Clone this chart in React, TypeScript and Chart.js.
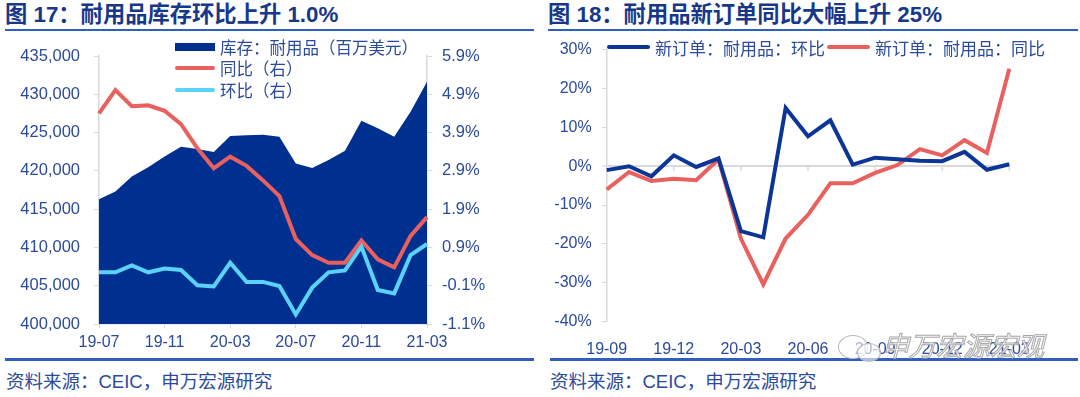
import React, { useEffect, useRef } from "react";
import { Chart, registerables } from "chart.js";
Chart.register(...registerables);

// ---------- Data: Figure 17 ----------
const months17 = [
  "19-07", "19-08", "19-09", "19-10", "19-11", "19-12", "20-01", "20-02", "20-03", "20-04",
  "20-05", "20-06", "20-07", "20-08", "20-09", "20-10", "20-11", "20-12", "21-01", "21-02", "21-03",
];
const inventory = [
  416300, 417300, 419250, 420470, 421860, 423160, 422860, 422470, 424560, 424640,
  424730, 424470, 420950, 420380, 421420, 422640, 426550, 425560, 424470, 427730, 431650,
];
const invYoY = [
  4.4, 5.01, 4.59, 4.61, 4.47, 4.12, 3.49, 2.97, 3.27, 3.03,
  2.65, 2.24, 1.12, 0.7, 0.5, 0.5, 1.08, 0.59, 0.38, 1.2, 1.69,
];
const invMoM = [
  0.25, 0.25, 0.43, 0.25, 0.35, 0.31, -0.09, -0.12, 0.5, 0.0,
  0.0, -0.11, -0.85, -0.15, 0.25, 0.3, 0.92, -0.21, -0.3, 0.7, 0.99,
];
const leftTicks17 = [400000, 405000, 410000, 415000, 420000, 425000, 430000, 435000];
const rightTicks17 = [-1.1, -0.1, 0.9, 1.9, 2.9, 3.9, 4.9, 5.9];
const labels17 = ["库存：耐用品（百万美元）", "同比（右）", "环比（右）"];

// ---------- Data: Figure 18 ----------
const months18 = [
  "19-09", "19-10", "19-11", "19-12", "20-01", "20-02", "20-03", "20-04", "20-05", "20-06",
  "20-07", "20-08", "20-09", "20-10", "20-11", "20-12", "21-01", "21-02", "21-03",
];
const ordersMoM = [
  -1.0, 0.0, -2.6, 2.8, -0.2, 2.0, -16.7, -18.3, 15.0, 7.7,
  11.8, 0.4, 2.2, 1.8, 1.4, 1.3, 3.7, -0.9, 0.5,
];
const ordersYoY = [
  -6.0, -1.5, -3.8, -3.2, -3.6, 1.8, -18.6, -30.4, -18.6, -12.5,
  -4.4, -4.4, -1.7, 0.3, 4.4, 2.8, 6.7, 3.4, 25.1,
];
const yTicks18 = [-40, -30, -20, -10, 0, 10, 20, 30];
const labels18 = ["新订单：耐用品：环比", "新订单：耐用品：同比"];

// ---------- Styles ----------
const NAVY = "#00308f";
const RED = "#e8615f";
const CYAN = "#5ad2fa";
const BLUE_LINE = "#0b3596";
const TEXT = "#2c4a9b";
const TITLE = "#17378a";
const RULE = "#3060bf";
const AXIS = "#d9d9d9";
const NUMFONT = "'Liberation Sans', Arial, 'Noto Sans CJK SC', sans-serif";
const CJKFONT = "'Liberation Sans', 'Noto Sans CJK SC', sans-serif";

function Fig17() {
  const ref = useRef<HTMLCanvasElement>(null);
  useEffect(() => {
    const chart = new Chart(ref.current!, {
      type: "line",
      data: {
        labels: months17,
        datasets: [
          {
            label: labels17[2],
            data: invMoM,
            yAxisID: "y1",
            borderColor: CYAN,
            borderWidth: 4,
            pointRadius: 0,
            tension: 0,
            fill: false,
            order: 1,
          },
          {
            label: labels17[1],
            data: invYoY,
            yAxisID: "y1",
            borderColor: RED,
            borderWidth: 4,
            pointRadius: 0,
            tension: 0,
            fill: false,
            order: 2,
          },
          {
            label: labels17[0],
            data: inventory,
            yAxisID: "y",
            borderWidth: 0,
            borderColor: NAVY,
            backgroundColor: NAVY,
            pointRadius: 0,
            tension: 0,
            fill: "start",
            order: 3,
          },
        ],
      },
      options: {
        responsive: false,
        animation: false,
        layout: { padding: { top: 26, left: 0, right: 0, bottom: 0 } },
        plugins: { legend: { display: false }, tooltip: { enabled: false } },
        scales: {
          x: {
            type: "category",
            offset: false,
            border: { display: true, color: AXIS, width: 1.5 },
            grid: { drawOnChartArea: false, drawTicks: true, tickLength: 4, color: AXIS },
            ticks: {
              autoSkip: false,
              maxRotation: 0,
              padding: 5,
              color: TEXT,
              font: { family: NUMFONT, size: 16 },
            },
            afterBuildTicks: (s: any) => {
              s.ticks = s.ticks.filter((_: any, i: number) => i % 4 === 0);
            },
            afterFit: (s: any) => {
              s.height = 36;
            },
          },
          y: {
            position: "left",
            min: leftTicks17[0],
            max: leftTicks17[leftTicks17.length - 1],
            border: { display: true, color: AXIS, width: 1.5 },
            grid: { drawOnChartArea: false, drawTicks: true, tickLength: 5, color: AXIS },
            afterBuildTicks: (s: any) => {
              s.ticks = leftTicks17.map((v) => ({ value: v }));
            },
            ticks: {
              padding: 14,
              color: TEXT,
              font: { family: NUMFONT, size: 16.5 },
              callback: (v: any) => Number(v).toLocaleString("en-US"),
            },
            afterFit: (s: any) => {
              s.width = 99;
            },
          },
          y1: {
            position: "right",
            min: rightTicks17[0],
            max: rightTicks17[rightTicks17.length - 1],
            border: { display: true, color: AXIS, width: 1.5 },
            grid: { drawOnChartArea: false, drawTicks: true, tickLength: 5, color: AXIS },
            afterBuildTicks: (s: any) => {
              s.ticks = rightTicks17.map((v) => ({ value: v }));
            },
            ticks: {
              padding: 10,
              color: TEXT,
              font: { family: NUMFONT, size: 16.5 },
              callback: (v: any) => Number(v).toFixed(1) + "%",
            },
            afterFit: (s: any) => {
              s.width = 113;
            },
          },
        },
      },
    });
    return () => chart.destroy();
  }, []);
  return (
    <canvas
      ref={ref}
      width={540}
      height={330}
      style={{ position: "absolute", left: 0, top: 30, width: 540, height: 330, display: "block" }}
    />
  );
}

const zeroTicks = {
  id: "zeroTicks",
  beforeDatasetsDraw(chart: any) {
    const xs = chart.scales.x;
    const ys = chart.scales.y;
    const y0 = ys.getPixelForValue(0);
    const ctx = chart.ctx;
    ctx.save();
    ctx.strokeStyle = AXIS;
    ctx.lineWidth = 1.5;
    xs.ticks.forEach((t: any) => {
      const px = xs.getPixelForValue(t.value);
      ctx.beginPath();
      ctx.moveTo(px, y0);
      ctx.lineTo(px, y0 + 5);
      ctx.stroke();
    });
    ctx.restore();
  },
};

function Fig18() {
  const ref = useRef<HTMLCanvasElement>(null);
  useEffect(() => {
    const chart = new Chart(ref.current!, {
      type: "line",
      data: {
        labels: months18,
        datasets: [
          {
            label: labels18[0],
            data: ordersMoM,
            borderColor: BLUE_LINE,
            borderWidth: 4,
            pointRadius: 0,
            tension: 0,
            fill: false,
            order: 1,
          },
          {
            label: labels18[1],
            data: ordersYoY,
            borderColor: RED,
            borderWidth: 4,
            pointRadius: 0,
            tension: 0,
            fill: false,
            order: 2,
          },
        ],
      },
      plugins: [zeroTicks],
      options: {
        responsive: false,
        animation: false,
        layout: { padding: { top: 19.3, left: 0, right: 70.7, bottom: 0 } },
        plugins: { legend: { display: false }, tooltip: { enabled: false } },
        scales: {
          x: {
            type: "category",
            offset: false,
            border: { display: false },
            grid: { display: false },
            ticks: {
              autoSkip: false,
              maxRotation: 0,
              padding: 10,
              color: TEXT,
              font: { family: NUMFONT, size: 16 },
            },
            afterBuildTicks: (s: any) => {
              s.ticks = s.ticks.filter((_: any, i: number) => i % 3 === 0);
            },
            afterFit: (s: any) => {
              s.height = 38.3;
            },
          },
          y: {
            min: yTicks18[0],
            max: yTicks18[yTicks18.length - 1],
            border: { display: true, color: AXIS, width: 1.5 },
            grid: {
              drawOnChartArea: true,
              drawTicks: true,
              tickLength: 5,
              tickColor: AXIS,
              tickWidth: 1,
              color: (c: any) => (c.tick && c.tick.value === 0 ? AXIS : "rgba(0,0,0,0)"),
              lineWidth: (c: any) => (c.tick && c.tick.value === 0 ? 2 : 1),
            },
            afterBuildTicks: (s: any) => {
              s.ticks = yTicks18.map((v) => ({ value: v }));
            },
            ticks: {
              padding: 10,
              color: TEXT,
              font: { family: NUMFONT, size: 16 },
              callback: (v: any) => `${v}%`,
            },
            afterFit: (s: any) => {
              s.width = 66.7;
            },
          },
        },
      },
    });
    return () => chart.destroy();
  }, []);
  return (
    <canvas
      ref={ref}
      width={540}
      height={330}
      style={{ position: "absolute", left: 540, top: 30, width: 540, height: 330, display: "block" }}
    />
  );
}

function LegendItem(props: {
  left: number;
  cy: number;
  swatch: "box" | "line";
  color: string;
  text: string;
  size: number;
  width?: number;
}) {
  const w = props.width ?? 40;
  return (
    <div
      style={{
        position: "absolute",
        left: props.left,
        top: props.cy - 12,
        height: 24,
        display: "flex",
        alignItems: "center",
        whiteSpace: "nowrap",
        fontFamily: CJKFONT,
        fontSize: props.size,
        color: TEXT,
      }}
    >
      <div
        style={{
          width: w,
          height: props.swatch === "box" ? 8 : 4,
          background: props.color,
          borderRadius: props.swatch === "line" ? 2 : 0,
          marginRight: 5,
        }}
      />
      <span>{props.text}</span>
    </div>
  );
}

export default function App() {
  const titleStyle: React.CSSProperties = {
    position: "absolute",
    top: 0,
    lineHeight: "29px",
    fontFamily: CJKFONT,
    fontWeight: 700,
    fontSize: 22.3,
    color: TITLE,
    whiteSpace: "nowrap",
  };
  const sourceStyle: React.CSSProperties = {
    position: "absolute",
    top: 369,
    lineHeight: "25px",
    fontFamily: CJKFONT,
    fontSize: 18.5,
    color: TEXT,
    whiteSpace: "nowrap",
  };
  return (
    <div
      style={{
        position: "absolute",
        left: 0,
        top: 0,
        width: 1080,
        height: 397,
        background: "#fff",
        overflow: "hidden",
      }}
    >
      {/* Figure 17 */}
      <div style={{ ...titleStyle, left: 5 }}>图 17：耐用品库存环比上升 1.0%</div>
      <div style={{ position: "absolute", left: 5, top: 29, width: 529, height: 2, background: RULE }} />
      <Fig17 />
      <LegendItem left={175} cy={47} swatch="box" color={NAVY} text={labels17[0]} size={16.5} />
      <LegendItem left={175} cy={68} swatch="line" color={RED} text={labels17[1]} size={16.5} />
      <LegendItem left={175} cy={90} swatch="line" color={CYAN} text={labels17[2]} size={16.5} />
      <div style={{ position: "absolute", left: 5, top: 358, width: 529, height: 2.5, background: RULE }} />
      <div style={{ ...sourceStyle, left: 6 }}>资料来源：CEIC，申万宏源研究</div>

      {/* Figure 18 */}
      <div style={{ ...titleStyle, left: 548 }}>图 18：耐用品新订单同比大幅上升 25%</div>
      <div style={{ position: "absolute", left: 548, top: 29, width: 530, height: 2, background: RULE }} />
      <Fig18 />
      <LegendItem left={607} cy={47} swatch="line" color={BLUE_LINE} text={labels18[0]} size={17} width={43} />
      <LegendItem left={827} cy={47} swatch="line" color={RED} text={labels18[1]} size={17} width={43} />
      <div style={{ position: "absolute", left: 550, top: 358, width: 528, height: 2.5, background: RULE }} />
      <div style={{ ...sourceStyle, left: 550 }}>资料来源：CEIC，申万宏源研究</div>

      {/* watermark */}
      <div
        style={{
          position: "absolute",
          left: 838,
          top: 335,
          width: 28,
          height: 22,
          borderRadius: "50%",
          border: "1.5px solid #b8b8b8",
          background: "rgba(255,255,255,0.6)",
        }}
      />
      <div
        style={{
          position: "absolute",
          left: 857,
          top: 343,
          width: 22,
          height: 17,
          borderRadius: "50%",
          border: "1.5px solid #b8b8b8",
          background: "rgba(255,255,255,0.6)",
        }}
      />
      <div
        style={{
          position: "absolute",
          left: 882,
          top: 330,
          lineHeight: "30px",
          fontFamily: "'Noto Sans CJK SC', sans-serif",
          fontStyle: "italic",
          fontSize: 27,
          color: "rgba(255,255,255,0.75)",
          WebkitTextStroke: "1px #a8a8a8",
          whiteSpace: "nowrap",
        }}
      >
        申万宏源宏观
      </div>
    </div>
  );
}
